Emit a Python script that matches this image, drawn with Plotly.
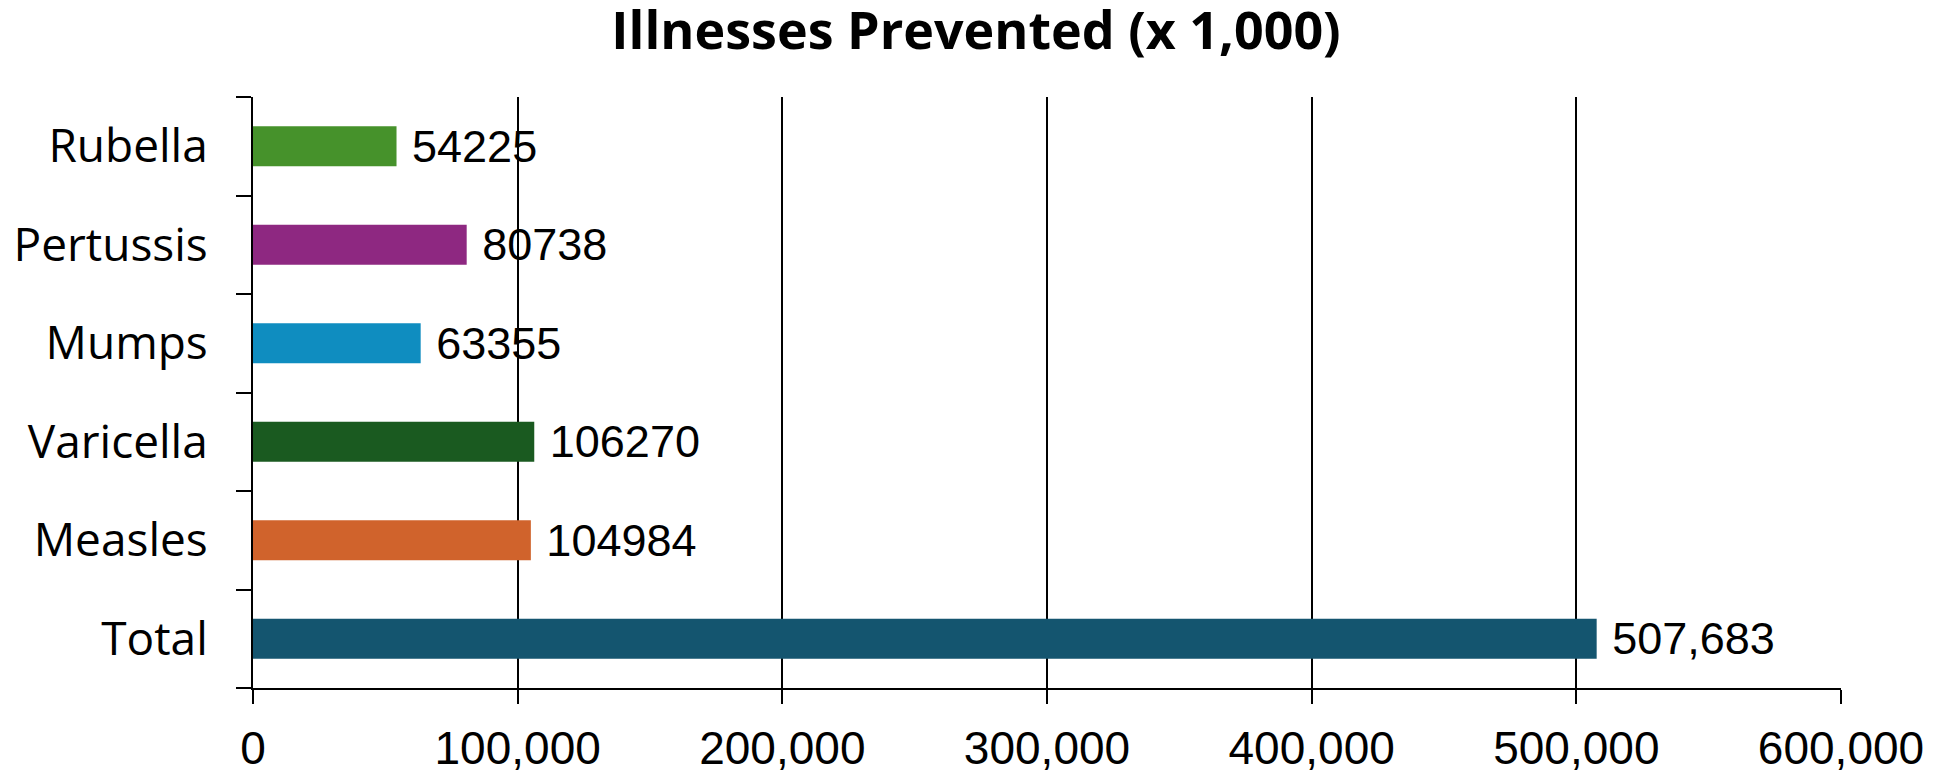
import plotly.graph_objects as go

# Illnesses prevented, in thousands (bottom to top)
categories = ["Total", "Measles", "Varicella", "Mumps", "Pertussis", "Rubella"]
values = [507683, 104984, 106270, 63355, 80738, 54225]
bar_colors = ["#14556F", "#D0632C", "#1A5A20", "#0F8DC0", "#8E2881", "#46922B"]
x_ticks = [0, 100000, 200000, 300000, 400000, 500000, 600000]
x_tick_labels = ["0", "100,000", "200,000", "300,000", "400,000", "500,000", "600,000"]

# The total is shown with a thousands separator, the rest as plain numbers
labels = [" " + (f"{v:,}" if c == "Total" else f"{v}") for c, v in zip(categories, values)]

fig = go.Figure(
    go.Bar(
        y=categories,
        x=values,
        orientation="h",
        marker=dict(color=bar_colors, line=dict(width=0)),
        text=labels,
        textposition="outside",
        constraintext="none",
        cliponaxis=False,
        outsidetextfont=dict(family="Liberation Sans, Arial, sans-serif", size=45, color="black"),
        hoverinfo="skip",
    )
)

fig.update_layout(
    width=1942,
    height=771,
    margin=dict(l=253, r=101, t=97, b=83),
    paper_bgcolor="white",
    plot_bgcolor="white",
    showlegend=False,
    bargap=0.594,
    title=dict(
        text="<b>Illnesses Prevented (x 1,000)</b>",
        font=dict(family="Open Sans, sans-serif", size=52, color="black"),
        x=0.5026,
        xanchor="center",
        xref="container",
        y=0.96,
        yref="container",
        yanchor="middle",
    ),
)

fig.update_xaxes(
    range=[0, 600000],
    tickvals=x_ticks,
    ticktext=x_tick_labels,
    automargin=False,
    showgrid=True,
    gridcolor="black",
    gridwidth=2,
    showline=True,
    linecolor="black",
    linewidth=2,
    ticks="outside",
    ticklen=14,
    tickwidth=2,
    tickcolor="black",
    ticklabelstandoff=5,
    tickfont=dict(family="Liberation Sans, Arial, sans-serif", size=46, color="black"),
    zeroline=False,
    fixedrange=True,
)

fig.update_yaxes(
    categoryorder="array",
    categoryarray=categories,
    automargin=False,
    showline=True,
    linecolor="black",
    linewidth=2,
    ticks="outside",
    tickson="boundaries",
    ticklen=15,
    tickwidth=2,
    tickcolor="black",
    ticklabelstandoff=34,
    tickfont=dict(family="Open Sans, sans-serif", size=46, color="black"),
    showgrid=False,
    fixedrange=True,
)

fig.write_html("out.html")
